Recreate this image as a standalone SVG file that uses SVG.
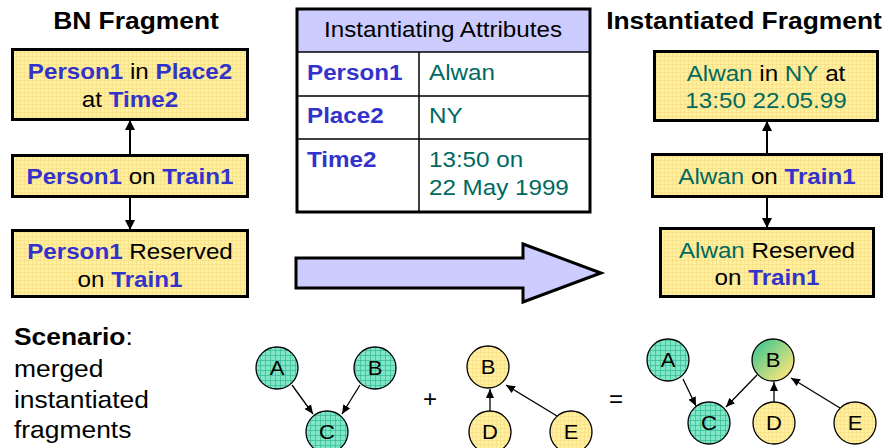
<svg xmlns="http://www.w3.org/2000/svg" width="896" height="448" viewBox="0 0 896 448">
  <defs>
    <style>
      text { font-family: "Liberation Sans", Arial, Helvetica, sans-serif; fill: #000; }
      .h { font-size: 24px; font-weight: bold; }
      .t { font-size: 22px; }
      .s { font-size: 24px; }
      .n { font-size: 20px; }
      .b { font-weight: bold; fill: #3333CC; }
      .v { fill: #00695F; }
      .box { fill: url(#gridY); stroke: #000; stroke-width: 3; }
      .cy { fill: url(#gridY); stroke: #000; stroke-width: 1.3; }
      .cg { fill: url(#gridG); stroke: #000; stroke-width: 1.3; }
      .edge { stroke: #000; stroke-width: 2; fill: none; marker-end: url(#head); }
      .gedge { stroke: #000; stroke-width: 1.3; fill: none; marker-end: url(#headS); }
      .tline { stroke: #000; stroke-width: 1.5; }
    </style>
    <pattern id="gridY" width="4" height="4" patternUnits="userSpaceOnUse">
      <rect width="4" height="4" fill="#FFEF9E"/>
      <path d="M0 0.3H4M0.3 0V4" stroke="#F3D97E" stroke-width="0.6"/>
    </pattern>
    <pattern id="gridG" width="5" height="5" patternUnits="userSpaceOnUse">
      <rect width="5" height="5" fill="#80E6C8"/>
      <path d="M0 0.4H5M0.4 0V5" stroke="#33B890" stroke-width="0.8"/>
    </pattern>
    <linearGradient id="mix" x1="0.15" y1="0.15" x2="0.85" y2="0.85">
      <stop offset="0" stop-color="#4EC98E"/>
      <stop offset="1" stop-color="#F6E47C"/>
    </linearGradient>
    <marker id="head" markerUnits="userSpaceOnUse" markerWidth="12" markerHeight="12" refX="10" refY="6" orient="auto">
      <path d="M0 1L10 6L0 11Z" fill="#000"/>
    </marker>
    <marker id="headS" markerUnits="userSpaceOnUse" markerWidth="10" markerHeight="10" refX="9" refY="5" orient="auto">
      <path d="M0 1L9 5L0 9Z" fill="#000"/>
    </marker>
  </defs>

  <!-- headings -->
  <text class="h" text-anchor="middle" transform="translate(136 29) scale(1.1 1)">BN Fragment</text>
  <text class="h" text-anchor="middle" transform="translate(744 29) scale(1.1 1)">Instantiated Fragment</text>

  <!-- BN fragment nodes -->
  <g id="bn-place">
    <rect class="box" x="12.5" y="49.5" width="235" height="70"/>
    <text class="t" text-anchor="middle" transform="translate(130 79) scale(1.1 1)"><tspan class="b">Person1</tspan> in <tspan class="b">Place2</tspan></text>
    <text class="t" text-anchor="middle" transform="translate(130 107) scale(1.1 1)">at <tspan class="b">Time2</tspan></text>
  </g>
  <g id="bn-on-train">
    <rect class="box" x="12.5" y="155.5" width="235" height="41"/>
    <text class="t" text-anchor="middle" transform="translate(130 184) scale(1.1 1)"><tspan class="b">Person1</tspan> on <tspan class="b">Train1</tspan></text>
  </g>
  <g id="bn-reserved">
    <rect class="box" x="12.5" y="230.5" width="235" height="66"/>
    <text class="t" text-anchor="middle" transform="translate(130 259) scale(1.1 1)"><tspan class="b">Person1</tspan> Reserved</text>
    <text class="t" text-anchor="middle" transform="translate(130 287) scale(1.1 1)">on <tspan class="b">Train1</tspan></text>
  </g>

  <!-- attribute table -->
  <g id="attributes">
    <rect x="297" y="9" width="293" height="43" fill="#CCCCFF"/>
    <rect x="297" y="9" width="293" height="203" fill="none" stroke="#000" stroke-width="3"/>
    <line class="tline" x1="297" y1="52" x2="590" y2="52"/>
    <line class="tline" x1="297" y1="96" x2="590" y2="96"/>
    <line class="tline" x1="297" y1="139" x2="590" y2="139"/>
    <line class="tline" x1="419" y1="52" x2="419" y2="212"/>
    <text class="t" text-anchor="middle" transform="translate(443 37) scale(1.1 1)">Instantiating Attributes</text>
    <text class="t b" transform="translate(307 80) scale(1.1 1)">Person1</text>
    <text class="t v" transform="translate(429 80) scale(1.1 1)">Alwan</text>
    <text class="t b" transform="translate(307 123) scale(1.1 1)">Place2</text>
    <text class="t v" transform="translate(429 123) scale(1.1 1)">NY</text>
    <text class="t b" transform="translate(307 167) scale(1.1 1)">Time2</text>
    <text class="t v" transform="translate(429 167) scale(1.1 1)">13:50 on</text>
    <text class="t v" transform="translate(429 195) scale(1.1 1)">22 May 1999</text>
  </g>

  <!-- instantiation arrow -->
  <g id="instantiate">
    <polygon points="296,258 523,258 523,244 601,273 523,302 523,288 296,288" fill="#CCCCFF" stroke="#000" stroke-width="3" stroke-linejoin="miter"/>
  </g>

  <!-- instantiated fragment nodes -->
  <g id="inst-place">
    <rect class="box" x="654.5" y="51.5" width="223" height="69"/>
    <text class="t" text-anchor="middle" transform="translate(766 81) scale(1.1 1)"><tspan class="v">Alwan</tspan> in <tspan class="v">NY</tspan> at</text>
    <text class="t v" text-anchor="middle" transform="translate(766 108) scale(1.1 1)">13:50 22.05.99</text>
  </g>
  <g id="inst-on-train">
    <rect class="box" x="652.5" y="154.5" width="229" height="42"/>
    <text class="t" text-anchor="middle" transform="translate(767 184) scale(1.1 1)"><tspan class="v">Alwan</tspan> on <tspan class="b">Train1</tspan></text>
  </g>
  <g id="inst-reserved">
    <rect class="box" x="660.5" y="228.5" width="213" height="68"/>
    <text class="t" text-anchor="middle" transform="translate(767 258) scale(1.1 1)"><tspan class="v">Alwan</tspan> Reserved</text>
    <text class="t" text-anchor="middle" transform="translate(767 285) scale(1.1 1)">on <tspan class="b">Train1</tspan></text>
  </g>

  <!-- scenario caption -->
  <g id="scenario">
    <text class="s" transform="translate(14 345) scale(1.1 1)"><tspan font-weight="bold">Scenario</tspan>:</text>
    <text class="s" transform="translate(14 377) scale(1.1 1)">merged</text>
    <text class="s" transform="translate(14 408) scale(1.1 1)">instantiated</text>
    <text class="s" transform="translate(14 438) scale(1.1 1)">fragments</text>
  </g>

  <!-- first small network -->
  <g id="g1-A"><ellipse class="cg" cx="277" cy="368" rx="21" ry="21"/><text class="n" text-anchor="middle" transform="translate(277 375) scale(1.1 1)">A</text></g>
  <g id="g1-B"><ellipse class="cg" cx="375" cy="368" rx="21" ry="21"/><text class="n" text-anchor="middle" transform="translate(375 375) scale(1.1 1)">B</text></g>
  <g id="g1-C"><ellipse class="cg" cx="327" cy="432" rx="21" ry="21"/><text class="n" text-anchor="middle" transform="translate(327 439) scale(1.1 1)">C</text></g>

  <text class="s" text-anchor="middle" x="430" y="407">+</text>

  <!-- second small network -->
  <g id="g2-B"><ellipse class="cy" cx="488" cy="367" rx="21" ry="21"/><text class="n" text-anchor="middle" transform="translate(488 374) scale(1.1 1)">B</text></g>
  <g id="g2-D"><ellipse class="cy" cx="490" cy="432" rx="21" ry="21"/><text class="n" text-anchor="middle" transform="translate(490 439) scale(1.1 1)">D</text></g>
  <g id="g2-E"><ellipse class="cy" cx="571" cy="432" rx="21" ry="21"/><text class="n" text-anchor="middle" transform="translate(571 439) scale(1.1 1)">E</text></g>

  <text class="s" text-anchor="middle" x="616" y="407">=</text>

  <!-- merged network -->
  <g id="m-A"><ellipse class="cg" cx="668" cy="360" rx="21" ry="21"/><text class="n" text-anchor="middle" transform="translate(668 367) scale(1.1 1)">A</text></g>
  <g id="m-B"><ellipse cx="773" cy="360" rx="21" ry="21" fill="url(#mix)" stroke="#000" stroke-width="1.3"/><text class="n" text-anchor="middle" transform="translate(773 367) scale(1.1 1)">B</text></g>
  <g id="m-C"><ellipse class="cg" cx="709" cy="423" rx="21" ry="21"/><text class="n" text-anchor="middle" transform="translate(709 430) scale(1.1 1)">C</text></g>
  <g id="m-D"><ellipse class="cy" cx="774" cy="423" rx="21" ry="21"/><text class="n" text-anchor="middle" transform="translate(774 430) scale(1.1 1)">D</text></g>
  <g id="m-E"><ellipse class="cy" cx="855" cy="423" rx="21" ry="21"/><text class="n" text-anchor="middle" transform="translate(855 430) scale(1.1 1)">E</text></g>

  <!-- connectors -->
  <g id="connectors">
    <line class="edge" x1="130" y1="155" x2="130" y2="120"/>
    <line class="edge" x1="130" y1="197" x2="130" y2="230"/>
    <line class="edge" x1="767" y1="154" x2="767" y2="121"/>
    <line class="edge" x1="767" y1="197" x2="767" y2="228"/>

    <line class="gedge" x1="292" y1="385" x2="313" y2="414"/>
    <line class="gedge" x1="360" y1="385" x2="342" y2="414"/>

    <line class="gedge" x1="490" y1="411" x2="490" y2="389"/>
    <line class="gedge" x1="557" y1="416" x2="506" y2="385"/>

    <line class="gedge" x1="683" y1="379" x2="696" y2="406"/>
    <line class="gedge" x1="757" y1="375" x2="726" y2="407"/>
    <line class="gedge" x1="774" y1="402" x2="774" y2="382"/>
    <line class="gedge" x1="840" y1="408" x2="791" y2="378"/>
  </g>
</svg>
